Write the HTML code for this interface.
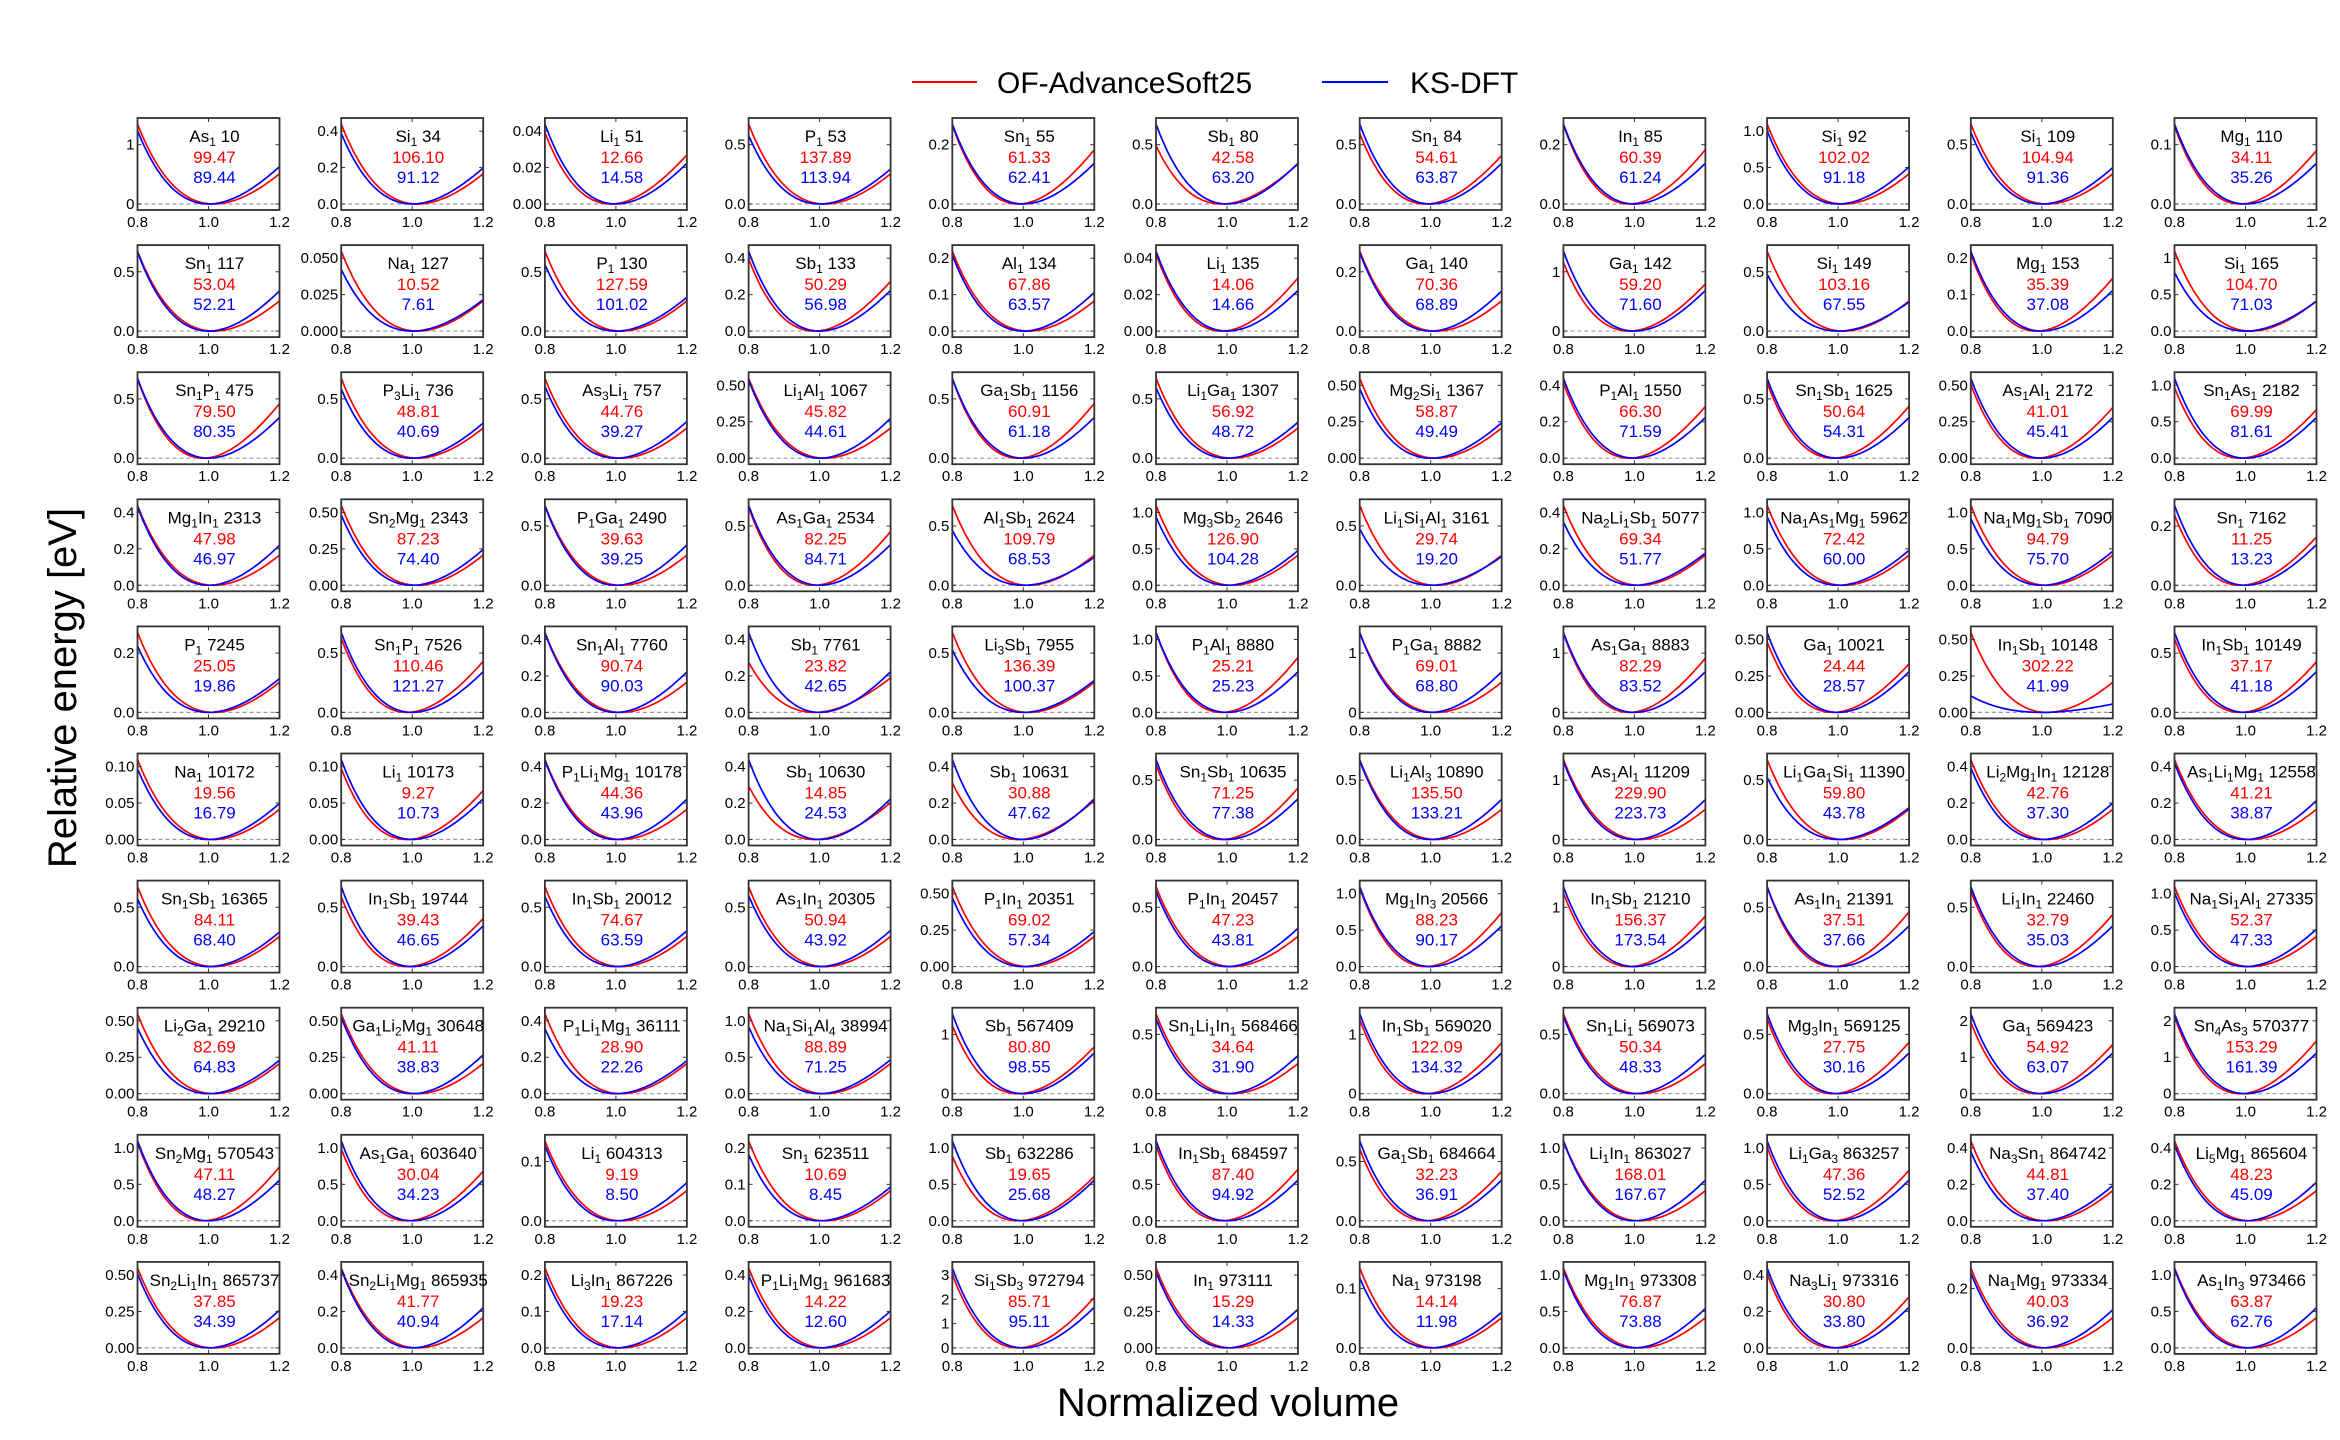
<!DOCTYPE html>
<html><head><meta charset="utf-8"><style>
html,body{margin:0;padding:0;background:#fff;}
svg{display:block;font-family:"Liberation Sans",sans-serif;}
</style></head><body>
<svg id="s" width="2340" height="1440" viewBox="0 0 2340 1440" xmlns="http://www.w3.org/2000/svg">
<line x1="912" y1="82" x2="977" y2="82" stroke="#f00" stroke-width="2"/>
<text x="997" y="93" font-size="30" fill="#000">OF-AdvanceSoft25</text>
<line x1="1322" y1="82" x2="1388" y2="82" stroke="#00f" stroke-width="2"/>
<text x="1410" y="93" font-size="30" fill="#000">KS-DFT</text>
<text x="1228" y="1416" font-size="40" text-anchor="middle">Normalized volume</text>
<text transform="translate(76,688) rotate(-90)" font-size="40" text-anchor="middle">Relative energy [eV]</text>
<g id="g"></g>
</svg>
<script>
const P=`As_1 10|99.47|89.44|0,1
Si_1 34|106.10|91.12|0.0,0.2,0.4
Li_1 51|12.66|14.58|0.00,0.02,0.04
P_1 53|137.89|113.94|0.0,0.5
Sn_1 55|61.33|62.41|0.0,0.2
Sb_1 80|42.58|63.20|0.0,0.5
Sn_1 84|54.61|63.87|0.0,0.5
In_1 85|60.39|61.24|0.0,0.2
Si_1 92|102.02|91.18|0.0,0.5,1.0
Si_1 109|104.94|91.36|0.0,0.5
Mg_1 110|34.11|35.26|0.0,0.1
Sn_1 117|53.04|52.21|0.0,0.5
Na_1 127|10.52|7.61|0.000,0.025,0.050
P_1 130|127.59|101.02|0.0,0.5
Sb_1 133|50.29|56.98|0.0,0.2,0.4
Al_1 134|67.86|63.57|0.0,0.1,0.2
Li_1 135|14.06|14.66|0.00,0.02,0.04
Ga_1 140|70.36|68.89|0.0,0.2
Ga_1 142|59.20|71.60|0,1
Si_1 149|103.16|67.55|0.0,0.5
Mg_1 153|35.39|37.08|0.0,0.1,0.2
Si_1 165|104.70|71.03|0.0,0.5,1
Sn_1P_1 475|79.50|80.35|0.0,0.5
P_3Li_1 736|48.81|40.69|0.0,0.5
As_3Li_1 757|44.76|39.27|0.0,0.5
Li_1Al_1 1067|45.82|44.61|0.00,0.25,0.50
Ga_1Sb_1 1156|60.91|61.18|0.0,0.5
Li_1Ga_1 1307|56.92|48.72|0.0,0.5
Mg_2Si_1 1367|58.87|49.49|0.00,0.25,0.50
P_1Al_1 1550|66.30|71.59|0.0,0.2,0.4
Sn_1Sb_1 1625|50.64|54.31|0.0,0.5
As_1Al_1 2172|41.01|45.41|0.00,0.25,0.50
Sn_1As_1 2182|69.99|81.61|0.0,0.5,1.0
Mg_1In_1 2313|47.98|46.97|0.0,0.2,0.4
Sn_2Mg_1 2343|87.23|74.40|0.00,0.25,0.50
P_1Ga_1 2490|39.63|39.25|0.0,0.5
As_1Ga_1 2534|82.25|84.71|0.0,0.5
Al_1Sb_1 2624|109.79|68.53|0.0,0.5
Mg_3Sb_2 2646|126.90|104.28|0.0,0.5,1.0
Li_1Si_1Al_1 3161|29.74|19.20|0.0,0.5
Na_2Li_1Sb_1 5077|69.34|51.77|0.0,0.2,0.4
Na_1As_1Mg_1 5962|72.42|60.00|0.0,0.5,1.0
Na_1Mg_1Sb_1 7090|94.79|75.70|0.0,0.5,1.0
Sn_1 7162|11.25|13.23|0.0,0.2
P_1 7245|25.05|19.86|0.0,0.2
Sn_1P_1 7526|110.46|121.27|0.0,0.5
Sn_1Al_1 7760|90.74|90.03|0.0,0.2,0.4
Sb_1 7761|23.82|42.65|0.0,0.2,0.4
Li_3Sb_1 7955|136.39|100.37|0.0,0.5
P_1Al_1 8880|25.21|25.23|0.0,0.5,1.0
P_1Ga_1 8882|69.01|68.80|0,1
As_1Ga_1 8883|82.29|83.52|0,1
Ga_1 10021|24.44|28.57|0.00,0.25,0.50
In_1Sb_1 10148|302.22|41.99|0.00,0.25,0.50
In_1Sb_1 10149|37.17|41.18|0.0,0.5
Na_1 10172|19.56|16.79|0.00,0.05,0.10
Li_1 10173|9.27|10.73|0.00,0.05,0.10
P_1Li_1Mg_1 10178|44.36|43.96|0.0,0.2,0.4
Sb_1 10630|14.85|24.53|0.0,0.2,0.4
Sb_1 10631|30.88|47.62|0.0,0.2,0.4
Sn_1Sb_1 10635|71.25|77.38|0.0,0.5
Li_1Al_3 10890|135.50|133.21|0.0,0.5
As_1Al_1 11209|229.90|223.73|0,1
Li_1Ga_1Si_1 11390|59.80|43.78|0.0,0.5
Li_2Mg_1In_1 12128|42.76|37.30|0.0,0.2,0.4
As_1Li_1Mg_1 12558|41.21|38.87|0.0,0.2,0.4
Sn_1Sb_1 16365|84.11|68.40|0.0,0.5
In_1Sb_1 19744|39.43|46.65|0.0,0.5
In_1Sb_1 20012|74.67|63.59|0.0,0.5
As_1In_1 20305|50.94|43.92|0.0,0.5
P_1In_1 20351|69.02|57.34|0.00,0.25,0.50
P_1In_1 20457|47.23|43.81|0.0,0.5
Mg_1In_3 20566|88.23|90.17|0.0,0.5,1.0
In_1Sb_1 21210|156.37|173.54|0,1
As_1In_1 21391|37.51|37.66|0.0,0.5
Li_1In_1 22460|32.79|35.03|0.0,0.5
Na_1Si_1Al_1 27335|52.37|47.33|0.0,0.5,1.0
Li_2Ga_1 29210|82.69|64.83|0.00,0.25,0.50
Ga_1Li_2Mg_1 30648|41.11|38.83|0.00,0.25,0.50
P_1Li_1Mg_1 36111|28.90|22.26|0.0,0.2,0.4
Na_1Si_1Al_4 38994|88.89|71.25|0.0,0.5,1.0
Sb_1 567409|80.80|98.55|0,1
Sn_1Li_1In_1 568466|34.64|31.90|0.0,0.5
In_1Sb_1 569020|122.09|134.32|0,1
Sn_1Li_1 569073|50.34|48.33|0.0,0.5
Mg_3In_1 569125|27.75|30.16|0.0,0.5
Ga_1 569423|54.92|63.07|0,1,2
Sn_4As_3 570377|153.29|161.39|0,1,2
Sn_2Mg_1 570543|47.11|48.27|0.0,0.5,1.0
As_1Ga_1 603640|30.04|34.23|0.0,0.5,1.0
Li_1 604313|9.19|8.50|0.0,0.1
Sn_1 623511|10.69|8.45|0.0,0.1,0.2
Sb_1 632286|19.65|25.68|0.0,0.5,1.0
In_1Sb_1 684597|87.40|94.92|0.0,0.5,1.0
Ga_1Sb_1 684664|32.23|36.91|0.0,0.5
Li_1In_1 863027|168.01|167.67|0.0,0.5,1.0
Li_1Ga_3 863257|47.36|52.52|0.0,0.5,1.0
Na_3Sn_1 864742|44.81|37.40|0.0,0.2,0.4
Li_5Mg_1 865604|48.23|45.09|0.0,0.2,0.4
Sn_2Li_1In_1 865737|37.85|34.39|0.00,0.25,0.50
Sn_2Li_1Mg_1 865935|41.77|40.94|0.0,0.2,0.4
Li_3In_1 867226|19.23|17.14|0.0,0.1,0.2
P_1Li_1Mg_1 961683|14.22|12.60|0.0,0.2,0.4
Si_1Sb_3 972794|85.71|95.11|0,1,2,3
In_1 973111|15.29|14.33|0.00,0.25,0.50
Na_1 973198|14.14|11.98|0.0,0.1
Mg_1In_1 973308|76.87|73.88|0.0,0.5,1.0
Na_3Li_1 973316|30.80|33.80|0.0,0.2,0.4
Na_1Mg_1 973334|40.03|36.92|0.0,0.2
As_1In_3 973466|63.87|62.76|0.0,0.5,1.0`.split("\n");
let h="";
const W=142,H=92;
P.forEach((line,i)=>{
 const [t,r,b,tk]=line.split("|");
 const ticks=tk.split(",");const tv=ticks.map(Number);
 const mt=tv[tv.length-1];
 const top=ticks.length==2?mt*1.45:mt*1.18;
 const ymin=-0.07*top;
 const c=i%11,row=Math.floor(i/11);
 const L=137.5+c*203.7,T=118+row*127.1,B=T+H,R=L+W;
 const X=v=>L+(v-0.8)/0.4*W, Y=e=>B-(e-ymin)/(top-ymin)*H;
 const rv=+r,bv=+b,mx=Math.max(rv,bv);
 function curve(val,v0,col){
   const f=v=>Math.pow(Math.pow(v0/v,2/3)-1,2);
   const A=0.93*top*Math.pow(val/mx,0.8)/f(0.8);
   let d="";for(let k=0;k<=60;k++){const v=0.8+0.4*k/60;d+=(k?"L":"M")+X(v).toFixed(1)+","+Y(A*f(v)).toFixed(1);}
   return `<path d="${d}" fill="none" stroke="${col}" stroke-width="1.7"/>`;
 }
 h+=`<line x1="${L}" y1="${Y(0)}" x2="${R}" y2="${Y(0)}" stroke="#999" stroke-width="1.2" stroke-dasharray="4,3"/>`;
 h+=curve(rv,rv>=bv?1.015:0.985,"#f00")+curve(bv,1.0,"#00f");
 h+=`<rect x="${L}" y="${T}" width="${W}" height="${H}" fill="none" stroke="#333" stroke-width="1.8"/>`;
 [0.8,1.0,1.2].forEach(v=>{const x=X(v);h+=`<line x1="${x}" y1="${B}" x2="${x}" y2="${B-4}" stroke="#333"/><line x1="${x}" y1="${T}" x2="${x}" y2="${T+4}" stroke="#333"/><text x="${x}" y="${B+17}" font-size="15" text-anchor="middle">${v.toFixed(1)}</text>`;});
 ticks.forEach((s,k)=>{const y=Y(tv[k]);h+=`<line x1="${L}" y1="${y}" x2="${L+4}" y2="${y}" stroke="#333"/><line x1="${R}" y1="${y}" x2="${R-4}" y2="${y}" stroke="#333"/><text x="${L-3}" y="${y+5}" font-size="15" text-anchor="end">${s}</text>`;});
 const tt=t.replace(/_(\d)/g,'<tspan font-size="12" baseline-shift="-4">$1</tspan>');
 const cx=L+W/2+6;
 h+=`<text x="${cx}" y="${T+24}" font-size="17" text-anchor="middle">${tt}</text>`;
 h+=`<text x="${cx}" y="${T+45}" font-size="17" text-anchor="middle" fill="#f00">${r}</text>`;
 h+=`<text x="${cx}" y="${T+65}" font-size="17" text-anchor="middle" fill="#00f">${b}</text>`;
});
document.getElementById("g").innerHTML=h;
</script>
</body></html>
